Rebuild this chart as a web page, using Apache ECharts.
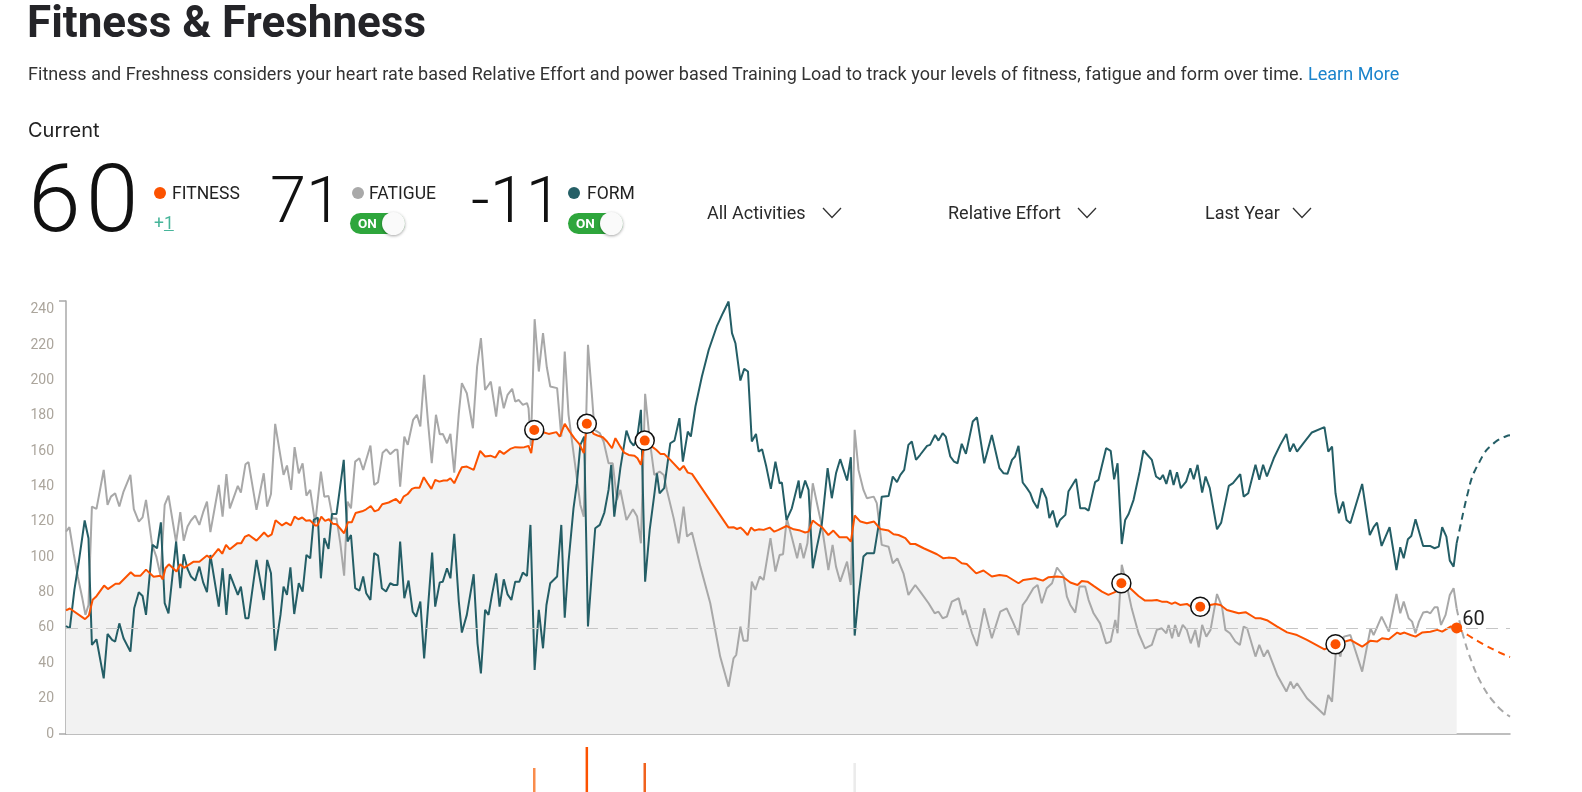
<!DOCTYPE html>
<html><head><meta charset="utf-8">
<script src="https://cdn.jsdelivr.net/npm/echarts@6/dist/echarts.min.js"></script>
<style>
html,body{margin:0;padding:0;background:#fff;width:1582px;height:792px;overflow:hidden;font-family:Roboto,"Noto Sans",sans-serif;color:#242428;}
#chart{position:absolute;left:0;top:0;width:1582px;height:792px;}
.abs{position:absolute;white-space:nowrap;line-height:1;}
.dot{position:absolute;width:12px;height:12px;border-radius:50%;}
.big{font-weight:300;color:#111;}
.lbl{font-size:17.5px;color:#222;}
.toggle{position:absolute;width:55px;height:21px;border-radius:11px;background:#2ea63c;}
.toggle span{position:absolute;left:8px;top:3.5px;font-size:13.5px;font-weight:700;color:#fff;line-height:1;}
.toggle i{position:absolute;right:0px;top:-1px;width:23px;height:23px;border-radius:50%;background:#fafafa;box-shadow:0 1px 3px rgba(0,0,0,0.35);}
.dd{font-size:18px;color:#2a2a2a;}
svg.chev{position:absolute;}
</style></head>
<body>
<div id="chart"></div>
<div class="abs" style="left:27px;top:0px;font-size:44px;font-weight:700;color:#242428;">Fitness &amp; Freshness</div>
<div class="abs" style="left:28px;top:65px;font-size:18px;letter-spacing:0.05px;color:#333;">Fitness and Freshness considers your heart rate based Relative Effort and power based Training Load to track your levels of fitness, fatigue and form over time. <span style="color:#1b84cc">Learn More</span></div>
<div class="abs" style="left:28px;top:120px;font-size:20px;color:#222;font-family:Inter,Roboto,sans-serif;">Current</div>

<div class="abs big" style="left:28px;top:151px;font-size:95px;letter-spacing:5px;">60</div>
<div class="dot" style="left:154px;top:187px;background:#fc5200"></div>
<div class="abs lbl" style="left:172px;top:185px;">FITNESS</div>
<div class="abs" style="left:154px;top:215px;font-size:17.5px;color:#47b59a;">+<span style="text-decoration:underline">1</span></div>

<div class="abs big" style="left:270px;top:168px;font-size:65px;">71</div>
<div class="dot" style="left:352px;top:187px;background:#a9a9a9"></div>
<div class="abs lbl" style="left:369px;top:185px;">FATIGUE</div>
<div class="toggle" style="left:350px;top:213px;"><span>ON</span><i></i></div>

<div class="abs big" style="left:471px;top:168px;font-size:65px;">-11</div>
<div class="dot" style="left:568px;top:187px;background:#255f66"></div>
<div class="abs lbl" style="left:587px;top:185px;">FORM</div>
<div class="toggle" style="left:568px;top:213px;"><span>ON</span><i></i></div>

<div class="abs dd" style="left:707px;top:204px;">All Activities</div>
<svg class="chev" style="left:822px;top:207px" width="20" height="12"><polyline points="1,1 10,10.5 19,1" fill="none" stroke="#333" stroke-width="1.3"/></svg>
<div class="abs dd" style="left:948px;top:204px;">Relative Effort</div>
<svg class="chev" style="left:1077px;top:207px" width="20" height="12"><polyline points="1,1 10,10.5 19,1" fill="none" stroke="#333" stroke-width="1.3"/></svg>
<div class="abs dd" style="left:1205px;top:204px;">Last Year</div>
<svg class="chev" style="left:1292px;top:207px" width="20" height="12"><polyline points="1,1 10,10.5 19,1" fill="none" stroke="#333" stroke-width="1.3"/></svg>

<script>
// ---- data: [day, value] ----
const fitness = [[0,70],[1,71],[5,65],[6,67],[7,76],[8,78],[10,84],[11,82],[13,85],[14,85],[17,91.5],[18,89.5],[19.5,89.5],[21,93],[23,89],[24.8,89.5],[25.4,87.5],[26.1,93.8],[27,96],[29,92],[30,96],[31,94],[33.5,97.5],[35,97.5],[37,101],[38,99.4],[40,104.7],[41,102],[42,107],[43,104.5],[45,108],[46,108],[47,111.7],[48,112.6],[50,109.4],[52,114],[53,111.7],[54,113],[55,121],[56.7,118],[57.8,119.6],[59,118],[60,123],[61,121.5],[62,122.5],[63,120.6],[64,121],[65.4,118],[66,118],[67,123],[68,120.6],[69,121.5],[70,119],[71,118.7],[73,113.6],[74,119.8],[75,119.8],[76,125],[77.7,126],[78.7,127],[80,129],[81,126],[82,126.8],[83,130],[84.7,131],[86.6,133],[87.7,130.6],
[88.6,134.3],[89.7,135.8],[90.8,138.7],[91.7,139.4],[92.8,139.4],[93.9,145.3],[94.9,141.9],[95.9,138.7],[96.9,143.8],[98,142.8],[99.1,143.4],[100,143.4],[100.9,144.7],[101.9,141.9],[103.1,147.5],[103.9,150.9],[105.2,151.3],[107,149.4],[108.7,160.2],[110,157],[111.4,157.5],[112.7,156.4],[113.8,160.2],[114.9,158.5],[116.6,161.3],[117.9,162.3],[119.2,162.1],[120.3,162.3],[121.4,163],[122.1,158.9],[122.9,172],[124.5,172],[125.5,170.6],[126.7,169.8],[128.7,170.8],[129.6,168.3],[130.9,175.5],[132.2,171.1],[133.4,167.4],[134.7,164.2],[135.9,158.9],[136.7,175.5],[138.5,169.8],[139.5,168.9],[140.9,167.9],[142,165.5],[143.3,161.7],[144.2,167.4],[145.5,162.6],[146.5,159.2],[147.7,157.9],[149.2,157.5],[150,156],[150.9,152.3],[151.9,166],[153.8,162.6],[154.9,160.8],[156,158.5],[157,158.5],[158.6,155.1],[161.1,149.4],[162.1,151.7],[163.2,147.9],[164.3,147.2],[173.9,116.8],[175.2,117],[176.1,116],[177,116.8],[177.9,115.1],[178.9,112.6],[179.8,116.8],[180.7,115.1],[181.8,115.8],[183.1,115.5],[184.7,116.8],[185.9,114.5],[187,115.5],[189.1,117.7],[191,115.8],[192.7,115.1],
[194,114],[194.9,114.5],[196,120.8],[197.5,118.3],[198.4,117],[200.1,112.6],[201.4,115.1],[203,111.3],[205,111.3],[206,108.9],[207,123.6],[208.5,120.2],[210.2,119.2],[212.1,120.2],[213.7,116],[215.9,115.1],[217.2,113],[218.5,112.6],[220.3,110.8],[221.6,107.5],[222.9,107.5],[225.1,105.1],[228.6,101.7],[230.3,99.4],[231.6,99.8],[233.4,99.4],[235.1,96.6],[236.4,96.2],[238.9,90.9],[240.8,92.5],[243,89.1],[245,90],[246.9,89.4],[250,85.3],[251.3,87.2],[254.4,88.1],[255,87.7],[256.4,86.8],[257.9,88.7],[260.1,89.1],[261.8,88.7],[263.6,85.7],[265.5,84.3],[266.6,86.6],[268.1,86.2],[269.7,83.8],[271.9,80.6],[273.6,78.7],[275.6,80.6],[277,85.3],[279.3,82.5],[281.5,78.1],[283.2,75.5],[285,75.5],[286.3,75.8],[287.6,74.9],[288.9,74.9],[290.2,73.6],[291.1,74.5],[292.4,73],[294.2,73.6],[295.9,71.1],
[297.7,72],[301.7,73.6],[303,73],[304.7,70.2],[307.8,68.3],[309.6,68.9],[312.2,65.5],[313.5,65.5],[315.4,64.2],[317.9,60.8],[320.5,57.5],[323.1,56],[325.7,53.2],[330.3,47.9],[333.2,50.8],[337.1,53.2],[340.2,49.4],[342.4,52.8],[344.1,52.3],[345.4,54.2],[347.2,53.6],[349.4,57.4],[350.2,56.6],[351.3,57.4],[352.9,56],[354.2,55.1],[355.9,57.4],[358.1,57.9],[359.9,58.9],[361.2,57.9],[363.4,60.8],[365,60]];

const fatigue = [[0,114.5],[0.9,117],[2,102.3],[3.1,89],[4.2,77.7],[5.1,67.4],[5.9,73],[6.8,128.7],[8,127.4],[9.9,149.4],[10.9,129.6],[11.8,134.3],[12.9,136.2],[14,128.7],[15.1,137.2],[16.9,146.6],[17.8,127.2],[19.1,120.2],[20.1,122.6],[21,132.5],[22.6,107],[23.7,100.4],[24.8,89.6],[25.9,129.6],[26.9,134.9],[28.9,108.5],[30,125.5],[30.9,109.4],[31.9,117.4],[32.8,120.8],[33.9,123.6],[35,118.3],[36,125.5],[37,131.5],[37.9,114.2],[40.1,140.9],[41.1,123],[42.1,147],[43,127.7],[45.1,140.4],[45.9,136.6],[47.1,152.6],[47.9,153.8],[50,126.8],[51.9,147.5],[52.8,128.7],[53.8,135.8],[54.9,175.5],[56.3,157],[57.1,146.6],[58,151.9],[59.1,138.1],[60,162.3],[61.1,147.5],[62.1,153.2],[63.1,134.9],[64.1,138.1],[65.4,119.2],[66.9,148.5],[67.8,134.3],[68.9,134.7],[70,122],[71,122],[72,107.9],[73,89.6],[73.9,131.5],[74.8,127.7],[75.9,154.1],[77,156],[78,149.4],[79.9,163.2],[80.9,140.9],[81.9,142.5],[83.1,159.2],[84.1,161.1],[85.1,158.3],[86.4,160.8],[87,160.8],[87.7,140],
[88.8,168.3],[89.7,163.6],[91.1,177.7],[92.1,180.6],[93,174],[94,203.2],[95,176.8],[96,153.2],[97.1,180.6],[98.1,169.6],[98.9,169.8],[100,164.5],[100.9,169.8],[101.9,147.9],[103.1,181.5],[103.9,198.5],[105.2,192.8],[106.8,173],[107.9,207.9],[108.9,224],[110,194.7],[110.9,197.5],[111.5,199.4],[112.9,179.6],[113.8,196.6],[114.9,184.3],[115.9,191.9],[117.1,195.3],[117.9,188.1],[118.8,189],[119.9,186.2],[121,187.2],[121.4,184.3],[122,163],[123,234.7],[124.1,205.1],[125.2,226.8],[126.2,207.5],[127.1,196.6],[128.9,195.7],[130,168.3],[130.9,216.4],[131.9,180.6],[133.4,156],[135,129.6],[135.9,123],[137,220.2],[138.1,190],[138.7,172.1],[140.1,170.2],[141.1,165.5],[142.4,153.2],[143.5,153.2],[144.6,132.5],[145.5,138.1],[147.1,121.1],[148.8,127.2],[149.9,123],[150.9,107.9],[152,192.5],[153.2,166.4],[154.4,146.6],[155.8,148.5],[156.9,146.6],[157.7,138.1],[159.5,122],[160.8,107.9],[162.1,128.7],[163,111.7],[164.3,114],[166.5,94.7],[169.1,74],[171.7,43.8],[173.9,26.8],[175.2,42.8],[175.9,44.7],[177,60.8],[177.8,52.8],[178.9,52.8],[180,86.2],[180.9,81.5],[182.1,89.1],[183.1,87.2],[184.9,110.8],[186.2,91.9],[187.3,101.3],[188.2,101.7],[189.2,122],[190.5,111.3],[191.9,99.4],[192.7,107.9],
[193.6,99.4],[194.6,107.9],[196,141.9],[197.1,130.6],[198.4,117.4],[200.1,92.8],[201.2,107],[202.1,94.7],[203.2,86.2],[205,97.5],[206,84.3],[207,172.1],[208,149.4],[209.3,138.1],[210.2,133.4],[212,134.3],[212.8,130.6],[214.1,107],[215.9,106],[217,96.6],[218.2,99.4],[219.8,90.9],[221.1,78.7],[222.9,84.3],[224.2,80.6],[226.4,74],[228,68.3],[229,69.2],[230.1,65.5],[231.2,66.4],[232.5,74.9],[234.3,76.8],[235.4,67.4],[236,70.2],[237.8,57],[239.1,49.8],[241,71.1],[243,54.2],[245.2,69.2],[246.9,71.1],[248.7,62.6],[250,56],[251.1,73],[252.2,76.2],[253.9,82.5],[255,84.3],[256.1,74],[257.4,82.5],[258.8,85.3],[260.1,94.2],[261.8,89.4],[262.7,77.7],[263.6,73],[264.9,68.7],[266,83.4],[267.5,83.4],[268.4,75.8],[269.7,68.3],[271.4,62.6],[273,51.3],[274.2,52.3],[275.4,64.5],[276,57],[277.1,95.7],[278.3,85.3],[279.7,71.1],[281.5,57],[283.2,48.5],[285,50.4],[286.3,58.9],[287.6,59.8],[288.8,57],[289.4,61.7],[290.3,54.2],[291.1,61.7],[292,55.1],[293.1,61.7],[294.2,58.9],[295.2,51.3],[296.4,58.9],[297.3,49.1],
[298.2,61.7],[299.3,55.1],[300.4,58.9],[302.1,79.2],[303.4,72.1],[304.3,58.9],[305.5,57],[306.9,52.3],[308.1,50.4],[309.1,60.8],[310,59.8],[312.2,43.8],[313.2,50.4],[314.4,43.8],[315.4,47.5],[317.9,33.4],[320.3,24],[321.4,29.6],[322.2,25.8],[323.1,28.7],[325.7,20.2],[330.3,10.8],[331.3,22.1],[332.3,18.3],[333.4,49.4],[334.5,43.8],[335.4,55.1],[337.1,56],[340.2,35.3],[342.4,59.8],[343.2,56],[345.3,66.4],[347.2,57.9],[349.2,79.2],[350.2,68.3],[351.1,74.9],[352.4,65.5],[353.3,63.6],[354.2,57],[355.1,63.6],[356.2,68.7],[357.2,69.2],[358.1,68.3],[359.2,71.7],[360,71.7],[360.9,61.7],[362.1,67.4],[363.2,78.7],[364.2,82.5],[365,71]];

const form = [[0,61.1],[1,59.8],[2.2,81.5],[3.3,96.6],[4.9,120.8],[5.9,110.8],[6.8,50.4],[8,53.6],[9.9,31.5],[10.9,56.6],[12.1,53.2],[12.9,52.3],[14,62.6],[15.1,54.2],[16.9,46.6],[17.9,71.1],[19.1,80.2],[20.1,78.1],[21,67.4],[22.7,107],[23.9,105.1],[24.9,119.8],[25.9,74],[26.9,68.3],[28.9,108.9],[30,82.5],[30.9,101.7],[31.9,93.4],[32.8,89.1],[33.9,86.8],[35,94.7],[36,85.8],[37,80.2],[37.9,101.3],[40.1,72.1],[41.1,93.8],[42.1,67.4],[43,90.4],[45.1,78.7],[45.9,83.4],[47.1,65.5],[47.9,65.5],[50,98.5],[51.9,75.8],[52.8,98.5],[53.8,90.9],[54.9,47.2],[56.3,67.4],[57.1,83.4],[58,78.7],[58.9,94.3],[59.9,67.9],[61.1,85.3],[62.1,80.6],[63.1,101.3],[64.1,99.4],[65,121.1],[66.1,122.5],[66.9,88.1],[67.8,110.8],[68.9,104.7],[69.8,124.5],[71,124.5],[72.9,155.1],[73.9,108.9],[74.8,112.6],[75.9,82.5],[77,81.1],[78,89.1],[78.8,79.6],[79.9,75.8],[80.9,102.3],[81.9,100.9],[82.9,82.5],[84,80.6],[85.1,85.3],[86,84.3],[87,84.3],[87.7,108.9],
[88.8,76.8],[89.9,86.8],[91,69.2],[91.9,66.4],[93,74.9],[94,42.8],[96.1,102.6],[96.9,72.1],[98.1,85.8],[98.9,86.2],[100,93.8],[100.9,88.1],[101.9,113.2],[103.1,74.9],[103.9,57.4],[105.2,67.4],[107,90.4],[108,51.3],[108.9,34.3],[110,70.2],[110.9,67.4],[111.8,78.7],[112.9,90.9],[113.8,72.1],[114.9,87.5],[115.9,79],[116.9,75.8],[117.9,86.2],[119,86.2],[119.9,91.3],[121,89.4],[121.9,118.3],[123,36.2],[124.1,70.2],[125.2,48.5],[126.1,73],[127.1,85.3],[128.9,89.1],[130,118.3],[130.9,65.8],[131.9,97.5],[133.2,127.7],[134.1,141.9],[135,163.6],[136,168.3],[137,60.8],[138.1,93.8],[138.9,116.4],[140.1,118.3],[141.3,125.3],[142.4,138.1],[143.1,152.3],[143.9,123],[145.5,150.4],[147.1,171.7],[148.1,165.5],[149,163.2],[149.9,167.4],[150.9,183.4],[152,86.2],[153.2,115.5],[154.4,135.3],[155.1,147.5],[155.8,136.2],[157,139.1],[158.6,164.5],[159.7,166],[161,178.7],[161.9,154.1],[163.2,171.1],[164,168.3],[165.2,185.3],[166.9,202.3],[168.7,217.4],[170.8,230.6],[172.4,238.1],[173.9,244.7],[174.8,226.8],[175.7,221.1],[177,200],[178,206.6],[179,205.1],[180,165.5],[181.1,169.8],[181.8,159.8],[182.7,161.1],[183.8,151.3],[185,138.7],[186.2,154.1],[187.3,141.9],[187.9,142.3],[189.1,121.1],[190.5,127.7],[192.3,143.4],
[192.7,133.4],[194,143.4],[194.9,138.1],[196,93.8],[197.1,106],[198.4,119.2],[199.9,150.4],[201,133.4],[202.1,147.5],[203.2,155.5],[205,143.4],[206,156.6],[207,55.7],[208,77.7],[209.3,100.4],[210.2,102.3],[212.1,102.3],[213.3,118.3],[214.1,134.3],[215.9,134.7],[217,145.7],[218.1,142.5],[219,146.6],[220,149.4],[221.1,163.6],[222,165.5],[223.1,155.1],[224.2,158],[226,163],[226.8,163.6],[228.1,169.2],[229,166],[230.1,170.2],[230.9,168.3],[232.1,157],[233.1,154.1],[234,153.2],[235.1,164.2],[236.2,158.5],[238,176.8],[239.1,179.2],[241,153.2],[243,169.2],[245,150.4],[246.1,147.5],[247.1,147.2],[248.3,155.1],[249.1,157],[250,163],[251.1,142.3],[252.2,139.1],[253.1,136.2],[253.9,131.5],[255,127.7],[256.1,139.1],[257.3,133.4],[258.1,122.1],[259,126.4],[260.1,117],[260.9,121.1],[262.3,124],[263.1,137.2],[265.1,144.3],[266.2,127.7],[267.5,127.7],[268.4,126.4],[270.1,142.5],[271,143.8],[273,161.7],[274.2,160.2],[275.1,144.1],[276,153.2],[277.1,107.5],[278,121.1],[278.9,124.5],[280.2,132.5],[281.8,148.5],[282.8,160.4],[285,155.1],[286.1,145.7],[287.2,144.1],[287.9,146.6],[288.8,141.5],[289.8,149.4],[290.7,140.9],[291.6,148.1],[292.6,139.1],[294,142.8],[295.1,150.4],[296,144.1],[297,152.3],
[298.2,136.6],[299.1,145.7],[300.2,139.1],[302.1,115.8],[303.2,119.6],[305.2,140.4],[306.3,141.9],[308.2,147],[309.1,134.3],[310.3,136.2],[312.2,152.3],[313.2,143.8],[314.2,152.3],[315.2,145.7],[317,156],[318.7,163.6],[320.3,169.8],[321.2,159.8],[322.2,164.2],[323.1,159.8],[324.9,164.9],[327,170.6],[330.3,173.6],[331.3,159.8],[332.3,162.6],[333.2,136.2],[334.1,124.9],[335.2,131.5],[336.1,121.1],[337.1,119.2],[340.2,141.5],[342.2,112.6],[343.2,117],[344.1,119.6],[345.3,106.4],[347.4,117],[349.2,92.8],[350.2,105.7],[351.1,99.4],[352.2,110.2],[353.1,112],[354.2,121.5],[356.2,106.4],[358,106.4],[359.2,105.1],[360.3,106],[361.2,117],[362.3,111.7],[363.2,98.1],[364.2,94.7],[365,108]];

// projected decay beyond today (dashed)
const fitnessProjection = [[365,60],[367,57.3],[369,54.5],[371,52],[373,49.6],[375,47.5],[377,45.4],[379,43.5]];
const fatigueProjection = [[365,71],[366,61.5],[367,53.5],[368,46.5],[369,40.5],[370,35],[371,30.5],[372,26.5],[373,23],[374,20],[375,17.5],[376,15],[377,13],[378,11.3],[379,9.8]];
const formProjection = [[365,108],[366,118],[367,128],[368,137],[369,145],[370,150],[371,154],[372,158],[373,161],[374,163],[375,165],[376,166.5],[377,167.5],[378,168.5],[379,169]];

// highlighted activities (days) and the visible tops of their effort bars below the axis
const activityDays = [122.9, 136.7, 151.9, 277, 297.7, 333.2];
const effortDays = [122.9, 136.7, 151.9, 207];
const effortValues = [24, 45, 29, 29];

const currentFitness = 60;
const yTicks = [0,20,40,60,80,100,120,140,160,180,200,220,240];
const X_MAX = 379, Y_MAX = 245;

const fitnessAt = d => { const p = fitness.find(q => q[0] === d); return p ? p[1] : null; };
const effortColors = ['#f98c4c', '#fc5200', '#f0621e', '#ebebeb'];

const chart = echarts.init(document.getElementById('chart'), null, {renderer: 'canvas'});
chart.setOption({
  animation: false,
  grid: [
    {left: 66, right: 72, top: 301, bottom: 58},
    {left: 66, right: 72, top: 740, bottom: 0}
  ],
  xAxis: [
    {type: 'value', gridIndex: 0, min: 0, max: X_MAX,
     axisLine: {show: true, onZero: false, lineStyle: {color: '#a9a9a9', width: 1.5}},
     axisTick: {show: false}, axisLabel: {show: false}, splitLine: {show: false}},
    {type: 'value', gridIndex: 1, min: 0, max: X_MAX, show: false}
  ],
  yAxis: [
    {type: 'value', gridIndex: 0, min: 0, max: Y_MAX,
     axisLine: {show: true, lineStyle: {color: '#a9a9a9', width: 1.5}},
     axisTick: {show: true, length: 7, customValues: [0, Y_MAX], lineStyle: {color: '#a9a9a9', width: 1.5}},
     axisLabel: {customValues: yTicks, color: '#aba59c', fontSize: 14, margin: 12, fontFamily: 'Roboto',
       verticalAlign: 'middle', padding: [4, 0, 0, 0]},
     splitLine: {show: false}},
    {type: 'value', gridIndex: 1, min: 0, max: 52, show: false}
  ],
  series: [
    {name: 'fill', type: 'line', data: fitness, symbol: 'none', silent: true, z: 1,
     lineStyle: {width: 0}, areaStyle: {color: '#f2f2f2', opacity: 1},
     markLine: {silent: true, symbol: 'none', label: {show: false},
       lineStyle: {color: '#c6c6c6', type: [12, 8], width: 1},
       data: [{yAxis: currentFitness}]}},
    {name: 'Fatigue', type: 'line', data: fatigue, symbol: 'none', z: 2,
     lineStyle: {color: '#a8a8a8', width: 2}},
    {name: 'Form', type: 'line', data: form, symbol: 'none', z: 3,
     lineStyle: {color: '#245e66', width: 2}},
    {name: 'Fitness', type: 'line', data: fitness, symbol: 'none', z: 4,
     lineStyle: {color: '#fc5200', width: 2}},
    {name: 'FatigueProj', type: 'line', data: fatigueProjection, symbol: 'none', smooth: true, z: 2,
     lineStyle: {color: '#a8a8a8', width: 2, type: [7, 5]}},
    {name: 'FormProj', type: 'line', data: formProjection, symbol: 'none', smooth: true, z: 3,
     lineStyle: {color: '#245e66', width: 2, type: [7, 5]}},
    {name: 'FitnessProj', type: 'line', data: fitnessProjection, symbol: 'none', smooth: true, z: 4,
     lineStyle: {color: '#fc5200', width: 2, type: [7, 5]}},
    {name: 'ActivityRing', type: 'scatter', z: 5, symbol: 'circle', symbolSize: 19,
     data: activityDays.map(d => [d, fitnessAt(d)]),
     itemStyle: {color: '#ffffff', borderColor: '#111', borderWidth: 1.5, opacity: 1}},
    {name: 'ActivityDot', type: 'scatter', z: 6, symbol: 'circle', symbolSize: 10,
     data: activityDays.map(d => [d, fitnessAt(d)]),
     itemStyle: {color: '#fc5200', opacity: 1}},
    {name: 'Today', type: 'scatter', z: 6, symbol: 'circle', symbolSize: 11,
     data: [[365, currentFitness]],
     itemStyle: {color: '#fc5200', opacity: 1},
     label: {show: true, position: 'right', distance: 0, offset: [0, -8], formatter: '{@[1]}',
       fontSize: 20, color: '#222', fontFamily: 'Roboto'}},
    {name: 'Effort', type: 'bar', xAxisIndex: 1, yAxisIndex: 1, barWidth: 2.5, silent: true,
     data: effortDays.map((d, i) => ({value: [d, effortValues[i]], itemStyle: {color: effortColors[i]}}))}
  ]
});
</script>
</body></html>
